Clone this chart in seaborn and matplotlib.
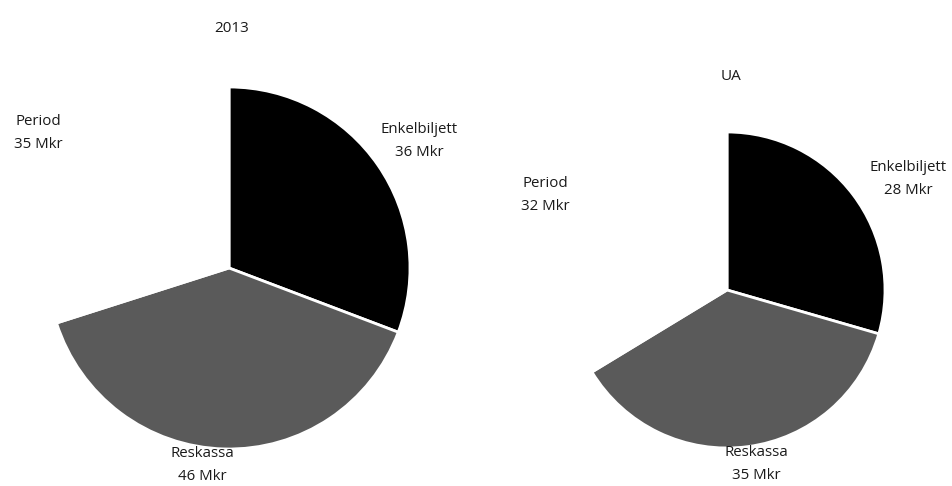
import matplotlib.pyplot as plt
import seaborn as sns

# Revenue per ticket type (Mkr)
categories = ['Enkelbiljett', 'Reskassa', 'Period']
values_2013 = [36, 46, 35]
values_ua = [28, 35, 32]
titles = ['2013', 'UA']

sns.set_theme(style='white')
plt.rcParams['font.family'] = ['Open Sans', 'DejaVu Sans']

colors = ['#000000', '#5a5a5a', '#ffffff']

W, H = 953, 486
fig = plt.figure(figsize=(W / 100, H / 100), dpi=100)
ax = fig.add_axes([0, 0, 1, 1])

# pie centres / radii in pixel space (y measured from top)
pies = [
    dict(values=values_2013, center=(229, 268), radius=181, title_pos=(232, 28),
         label_pos=[(419, 141), (202, 465), (38, 133)]),
    dict(values=values_ua, center=(727, 290), radius=158, title_pos=(731, 76),
         label_pos=[(908, 179), (756, 464), (545, 195)]),
]

for title, p in zip(titles, pies):
    cx, cy = p['center']
    ax.pie(p['values'], colors=colors, center=(cx, H - cy), radius=p['radius'],
           startangle=90, counterclock=False,
           wedgeprops=dict(edgecolor='white', linewidth=2))
    tx, ty = p['title_pos']
    ax.text(tx, H - ty, title, ha='center', va='center', fontsize=11, color='#1a1a1a')
    for cat, val, (lx, ly) in zip(categories, p['values'], p['label_pos']):
        ax.text(lx, H - ly, f'{cat}\n{val} Mkr', ha='center', va='center',
                fontsize=10.8, color='#1a1a1a', linespacing=1.8)

ax.set_xlim(0, W)
ax.set_ylim(0, H)
ax.set_aspect('equal')
ax.axis('off')
fig.savefig('out.png', dpi=100, facecolor='white')
